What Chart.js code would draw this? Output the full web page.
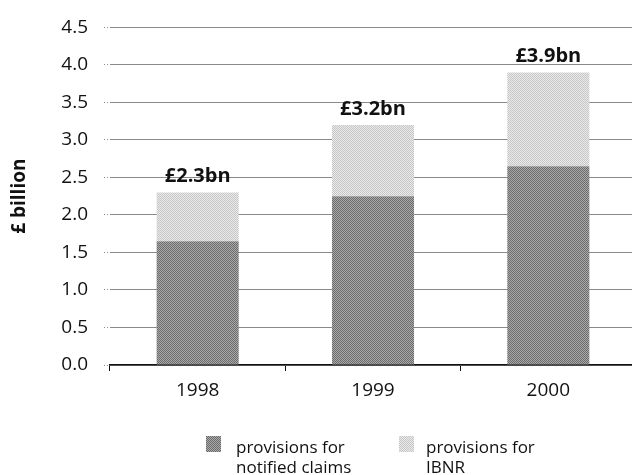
<!DOCTYPE html>
<html>
<head>
<meta charset="utf-8">
<script src="https://cdn.jsdelivr.net/npm/chart.js@4/dist/chart.umd.min.js"></script>
<style>
  html, body { margin: 0; padding: 0; background: #fff; overflow: hidden; }
  #wrap { width: 640px; height: 475px; }
</style>
</head>
<body>
<div id="wrap"><canvas id="provisions-chart" width="640" height="475"></canvas></div>
<script>
const years = ['1998', '1999', '2000'];
const notifiedClaims = [1.65, 2.25, 2.65];
const ibnr = [0.65, 0.95, 1.25];
const totals = [2.3, 3.2, 3.9];
const totalLabels = ['£2.3bn', '£3.2bn', '£3.9bn'];
const legendLines = [['provisions for', 'notified claims'], ['provisions for', 'IBNR']];

const FONT = "'Open Sans', 'DejaVu Sans', sans-serif";

// small halftone-like fills for the bars
function makePattern(a, b) {
  const c = document.createElement('canvas');
  c.width = 2;
  c.height = 2;
  const g = c.getContext('2d');
  g.fillStyle = a;
  g.fillRect(0, 0, 2, 2);
  g.fillStyle = b;
  g.fillRect(0, 0, 1, 1);
  g.fillRect(1, 1, 1, 1);
  return g.createPattern(c, 'repeat');
}

const darkFill = makePattern('#a9a9a9', '#6c6c6c');
const lightFill = makePattern('#eaeaea', '#c6c6c6');

// total above each stack
const totalsPlugin = {
  id: 'totals',
  afterDatasetsDraw(chart) {
    const ctx = chart.ctx;
    const top = chart.getDatasetMeta(chart.data.datasets.length - 1);
    ctx.save();
    ctx.font = "bold 20px " + FONT;
    ctx.fillStyle = '#111';
    ctx.textAlign = 'center';
    ctx.textBaseline = 'middle';
    top.data.forEach((bar, i) => {
      ctx.fillText(totalLabels[i], bar.x, bar.y - 16);
    });
    ctx.restore();
  }
};

// two-line legend under the axis
const legendPlugin = {
  id: 'twoLineLegend',
  afterDraw(chart, args, opts) {
    const ctx = chart.ctx;
    ctx.save();
    ctx.font = "17px " + FONT;
    ctx.textBaseline = 'alphabetic';
    chart.data.datasets.forEach((ds, i) => {
      const item = opts.items[i];
      ctx.fillStyle = ds.backgroundColor;
      ctx.fillRect(item.box, opts.boxTop, 15, 16);
      ctx.fillStyle = '#111';
      legendLines[i].forEach((line, j) => {
        ctx.fillText(line, item.text, opts.baseline + j * 20);
      });
    });
    ctx.restore();
  }
};

new Chart(document.getElementById('provisions-chart'), {
  type: 'bar',
  data: {
    labels: years,
    datasets: [
      {
        label: 'provisions for notified claims',
        data: notifiedClaims,
        backgroundColor: darkFill,
        categoryPercentage: 1,
        barPercentage: 0.468
      },
      {
        label: 'provisions for IBNR',
        data: ibnr,
        backgroundColor: lightFill,
        categoryPercentage: 1,
        barPercentage: 0.468
      }
    ]
  },
  options: {
    responsive: false,
    animation: false,
    layout: { padding: { top: 23, right: 4, bottom: 0, left: 0 } },
    plugins: {
      legend: { display: false },
      tooltip: { enabled: false },
      twoLineLegend: {
        boxTop: 436,
        baseline: 453,
        items: [{ box: 206, text: 236 }, { box: 399, text: 426 }]
      }
    },
    scales: {
      x: {
        stacked: true,
        afterFit(scale) { scale.height = 110; },
        border: { display: true, color: '#111', width: 1.5 },
        grid: {
          display: true,
          drawOnChartArea: false,
          drawTicks: true,
          tickLength: 6,
          color: '#111'
        },
        ticks: {
          color: '#111',
          padding: 8,
          font: { family: FONT, size: 19 }
        }
      },
      y: {
        stacked: true,
        min: 0,
        max: 4.5,
        afterFit(scale) { scale.width = 110; },
        border: { display: false },
        grid: {
          color: '#8a8a8a',
          lineWidth: 1,
          borderDash: [1, 2],
          tickLength: 6,
          tickBorderDash: [1, 2]
        },
        ticks: {
          stepSize: 0.5,
          color: '#111',
          padding: 16,
          font: { family: FONT, size: 19 },
          callback: (v) => Number(v).toFixed(1)
        },
        title: {
          display: true,
          text: '£ billion',
          color: '#111',
          padding: { top: 8, bottom: 0 },
          font: { family: FONT, size: 19, weight: 'bold' }
        }
      }
    }
  },
  plugins: [totalsPlugin, legendPlugin]
});
</script>
</body>
</html>
